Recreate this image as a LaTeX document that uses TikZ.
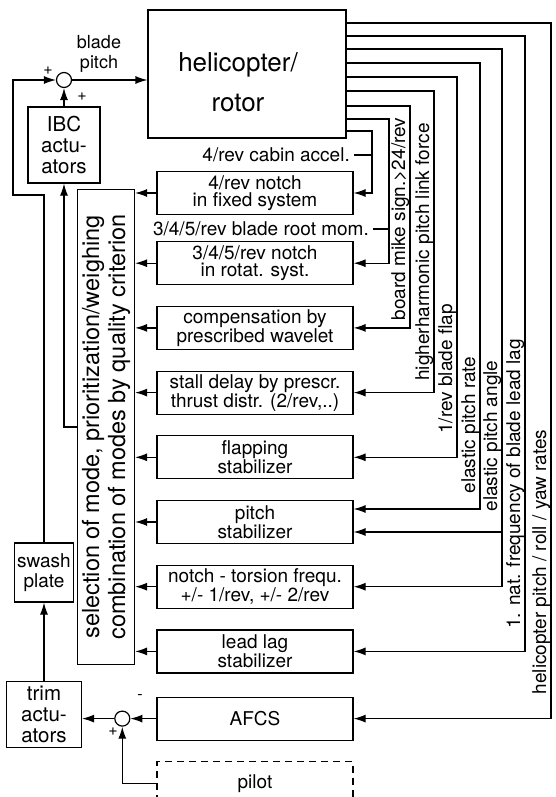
\documentclass[tikz,border=0pt]{standalone}
\usepackage{fontspec}
\setmainfont{TeX Gyre Heros}
\usetikzlibrary{arrows.meta,positioning}

\begin{document}
\begin{tikzpicture}[
  x=1pt, y=-1pt,
  box/.style={rectangle, draw, line width=1.2pt, align=center,
              font=\fontsize{19}{17.5}\selectfont, minimum width=196pt,
              minimum height=43pt, inner sep=1pt},
  act/.style={rectangle, draw, line width=1.2pt, align=center,
              font=\fontsize{20.5}{21}\selectfont, inner sep=1pt},
  lab/.style={font=\fontsize{19}{17}\selectfont, inner sep=0pt},
  vlab/.style={lab, rotate=90, anchor=base},
  sum/.style={circle, draw, line width=1.2pt, minimum size=15pt,
              inner sep=0pt},
  sgn/.style={font=\fontsize{16}{16}\selectfont, inner sep=0pt},
  arr/.style={draw, line width=1.2pt, -{Latex[length=12pt,width=8pt]}},
  ln/.style={draw, line width=1.2pt},
  node distance=20.5pt
]
\useasboundingbox (0,0) rectangle (555,797);

\node[box, minimum width=198pt, minimum height=128pt] (rotor) at (247,74) {};
\node[font=\fontsize{26}{40}\selectfont, align=center] (rotortxt)
  at (238,82) {helicopter/\\rotor};
\node[sum] (sum1) at (64,80) {};
\node[sgn] at (48,71) {+};
\node[sgn] at (82,97) {+};
\node[lab, align=center, font=\fontsize{18}{19.5}\selectfont] (bladepitch)
  at (99,54) {blade\\pitch};
\node[act, minimum width=72pt, minimum height=76pt] (ibc) at (64,145)
  {IBC\\actu-\\ators};

\node[draw, line width=1.2pt, minimum width=57pt, minimum height=475pt]
  (sel) at (106,427) {};
\node[rotate=90, align=center, font=\fontsize{23.5}{26}\selectfont]
  (seltxt) at (sel.center)
  {selection of mode, prioritization/weighing\\
   combination of modes by quality criterion};

\node[box] (fixnotch) at (255,193) {4/rev notch\\in fixed system};
\node[box, below=26pt of fixnotch] (rotnotch) {3/4/5/rev notch\\in rotat. syst.};
\node[box, below=of rotnotch] (wavelet) {compensation by\\prescribed wavelet};
\node[box, below=of wavelet] (stall)
  {stall delay by prescr.\\thrust distr. (2/rev,..)};
\node[box, below=of stall] (flap) {flapping\\stabilizer};
\node[box, below=of flap] (pitch) {pitch\\stabilizer};
\node[box, below=of pitch] (torsion)
  {notch - torsion frequ.\\+/- 1/rev, +/- 2/rev};
\node[box, below=of torsion] (leadlag) {lead lag\\stabilizer};
\node[box, below=23pt of leadlag] (afcs) {AFCS};
\node[box, dash pattern=on 7pt off 5pt, below=of afcs] (pilot) {pilot};

\node[act, font=\fontsize{19}{20.5}\selectfont, minimum width=59pt,
      minimum height=59pt] (swash) at (44,572.5) {swash\\plate};
\node[act, minimum width=75pt, minimum height=66pt] (trim) at (44,714.5)
  {trim\\actu-\\ators};
\node[sum, left=26pt of afcs] (sum2) {};
\node[sgn] at (140,697) {-};
\node[sgn] at (113,732) {+};

\node[lab, anchor=east] (cabin) at (350,155) {4/rev cabin accel.};
\node[lab, anchor=east] (rootmom) at (369,229) {3/4/5/rev blade root mom.};
\node[vlab] (mikelab) at (405,219) {board mike sign.>24/rev};
\node[vlab] (forcelab) at (429,252) {higherharmonic pitch link force};
\node[vlab] (flaplab) at (452,369) {1/rev blade flap};
\node[vlab] (ratelab) at (475,425) {elastic pitch rate};
\node[vlab] (anglelab) at (497,436) {elastic pitch angle};
\node[vlab] (laglab) at (520,484) {1. nat. frequency of blade lead lag};
\node[vlab] (rateslab) at (546,562) {helicopter pitch / roll / yaw rates};

\coordinate (kcab) at (372,131);
\coordinate (kroot) at (389,119);
\coordinate (kmike) at (410,106);
\coordinate (kforce) at (434,91);
\coordinate (kflap) at (457,77);
\coordinate (krate) at (480,63);
\coordinate (kangle) at (502,49);
\coordinate (klag) at (525,36);
\coordinate (krates) at (551,23);
\coordinate (pinr) at ([yshift=13pt]pitch.east);
\coordinate (pina) at ([yshift=-10pt]pitch.east);
\coordinate (fb) at (13,195);

\draw[arr] (sum1) -- (rotor.west |- sum1);
\draw[arr] (ibc.north) -- (sum1.south);
\draw[arr] (sel.west) -| (ibc.south);
\draw[arr] (swash.north) |- (fb) |- (sum1.west);
\draw[arr] (trim.north) -- (swash.south);
\draw[arr] (sum2) -- (trim.east |- sum2);
\draw[arr] (afcs.west) -- (sum2.east);
\draw[arr] (pilot.west) -| (sum2.south);
\foreach \n in {fixnotch,rotnotch,wavelet,stall,flap,pitch,torsion,leadlag}
  \draw[arr] (\n.west) -- (\n.west -| sel.east);

\draw[arr] (rotor.east |- kcab) -- (kcab) |- (fixnotch.east);
\draw[ln] ([xshift=4pt]cabin.east) -- (cabin -| kcab);
\draw[arr] (rotor.east |- kroot) -- (kroot) |- (rotnotch.east);
\draw[ln] ([xshift=4pt]rootmom.east) -- (rootmom -| kroot);
\draw[arr] (rotor.east |- kmike) -- (kmike) |- (wavelet.east);
\draw[arr] (rotor.east |- kforce) -- (kforce) |- (stall.east);
\draw[arr] (rotor.east |- kflap) -- (kflap) |- (flap.east);
\draw[arr] (rotor.east |- krate) -- (krate) |- (pinr);
\draw[arr] (rotor.east |- kangle) -- (kangle) |- (torsion.east);
\draw[arr] (kangle |- pina) -- (pina);
\draw[arr] (rotor.east |- klag) -- (klag) |- (leadlag.east);
\draw[arr] (rotor.east |- krates) -- (krates) |- (afcs.east);
\end{tikzpicture}
\end{document}
